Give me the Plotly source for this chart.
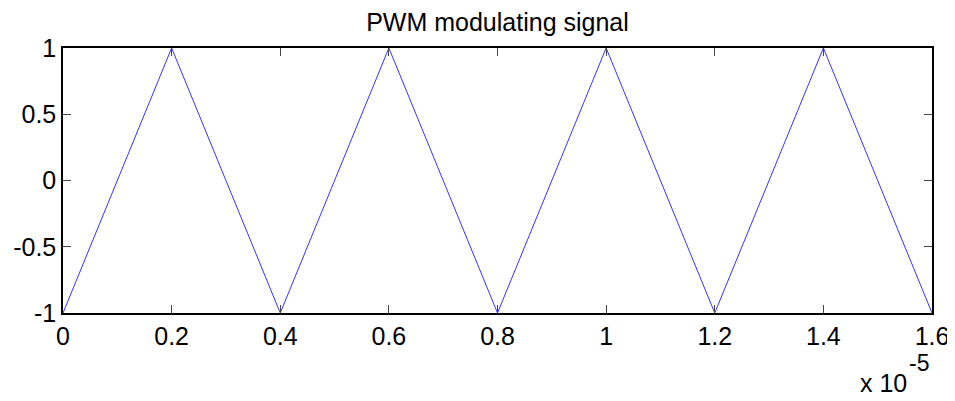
import plotly.graph_objects as go

# Triangle wave vertices (time in seconds, amplitude)
time_s = [0.0, 0.2e-5, 0.4e-5, 0.6e-5, 0.8e-5, 1.0e-5, 1.2e-5, 1.4e-5, 1.6e-5]
amplitude = [-1, 1, -1, 1, -1, 1, -1, 1, -1]

x_tick_vals = [0.0, 0.2e-5, 0.4e-5, 0.6e-5, 0.8e-5, 1.0e-5, 1.2e-5, 1.4e-5, 1.6e-5]
x_tick_text = ["0", "0.2", "0.4", "0.6", "0.8", "1", "1.2", "1.4", "1.6"]
y_tick_vals = [-1, -0.5, 0, 0.5, 1]
y_tick_text = ["-1", "-0.5", "0", "0.5", "1"]

FONT = "Liberation Sans, Arial, sans-serif"
FS = 25

# page has an 8px body margin, so the figure is 8px smaller than the window
W, H = 947, 393
L, R, T, B = 55, 23, 40, 88
PW = W - L - R
PH = H - T - B


def px_x(page_x):
    return (page_x - 8 - L) / PW


def px_y(page_y):
    return (H - B - (page_y - 8)) / PH


fig = go.Figure()
fig.add_trace(go.Scatter(x=time_s, y=amplitude, mode="lines",
                         line=dict(color="rgb(0,0,255)", width=0.8),
                         showlegend=False, hoverinfo="skip"))

axis_common = dict(showgrid=False, zeroline=False, showline=True, linecolor="black",
                   linewidth=1.5, mirror="allticks", ticks="inside", ticklen=8,
                   tickcolor="rgb(70,70,70)", tickwidth=1, automargin=False,
                   tickfont=dict(family=FONT, size=FS, color="black"))

fig.update_layout(
    width=W, height=H,
    paper_bgcolor="white", plot_bgcolor="white",
    margin=dict(l=L, r=R, t=T, b=B, autoexpand=False),
    title=dict(text="PWM modulating signal", x=(L + PW / 2) / W, xanchor="center",
               y=1 - 14 / H, yanchor="middle",
               font=dict(family=FONT, size=FS, color="black")),
    xaxis=dict(range=[0, 1.6e-5], tickmode="array", tickvals=x_tick_vals,
               ticktext=x_tick_text, **axis_common),
    yaxis=dict(range=[-1, 1], tickmode="array", tickvals=y_tick_vals,
               ticktext=y_tick_text, **axis_common),
    annotations=[
        dict(text="x 10", xref="paper", yref="paper",
             x=px_x(909), y=px_y(383), xanchor="right", yanchor="middle",
             showarrow=False, font=dict(family=FONT, size=FS, color="black")),
        dict(text="-5", xref="paper", yref="paper",
             x=px_x(907), y=px_y(363), xanchor="left", yanchor="middle",
             showarrow=False, font=dict(family=FONT, size=FS - 2, color="black")),
    ],
)

fig.write_html("out.html")
